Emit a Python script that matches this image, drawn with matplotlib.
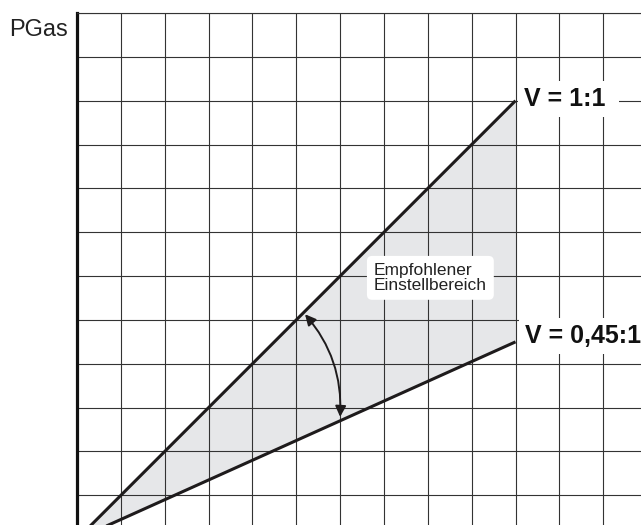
import matplotlib
matplotlib.use("Agg")
import matplotlib.pyplot as plt
import numpy as np
from matplotlib.patches import FancyArrowPatch

# ---- data ----
ratio_labels = ["V = 1:1", "V = 0,45:1"]
ratios = [1.0, 0.45]
x_range = [0.0, 10.0]
grid_x = list(range(1, 13))
grid_y = list(range(1, 13))
y_label = "PGas"
area_label = "Empfohlener\nEinstellbereich"

plt.rcParams['font.family'] = ['Liberation Sans', 'DejaVu Sans']

W, H = 641, 525
fig = plt.figure(figsize=(W / 100, H / 100), dpi=100)
unit = 43.85
left_px, top_px = 77, 13
ax = fig.add_axes([left_px / W, 0, 1 - left_px / W, 1 - top_px / H])
ymax = 12.0
ymin = ymax - (H - top_px) / unit
xmax = (W - left_px) / unit
ax.set_xlim(0, xmax)
ax.set_ylim(ymin, ymax)

grid_col = '#333333'
for gx in grid_x:
    ax.axvline(gx, color=grid_col, lw=0.8, zorder=2)
for gy in grid_y:
    ax.axhline(gy, color=grid_col, lw=0.8, zorder=2)

ax.set_xticks([])
ax.set_yticks([])
for s in ['right', 'bottom']:
    ax.spines[s].set_visible(False)
ax.spines['top'].set_color(grid_col)
ax.spines['top'].set_linewidth(0.8)
ax.spines['left'].set_color('#111111')
ax.spines['left'].set_linewidth(2.3)

xs = np.array(x_range)
y_hi = ratios[0] * xs
y_lo = ratios[1] * xs
ax.fill_between(xs, y_lo, y_hi, color='#e6e7e9', lw=0, zorder=1)
line_col = '#1e1b1c'
ax.plot(xs, y_hi, color=line_col, lw=2.2, zorder=3, solid_capstyle='butt')
ax.plot(xs, y_lo, color=line_col, lw=2.2, zorder=3, solid_capstyle='butt')

# labels for ratios
ax.text(10.19, 9.88, ratio_labels[0] + " ", fontsize=18, fontweight='bold', color='#111111',
        ha='left', va='baseline', zorder=5,
        bbox=dict(boxstyle='square,pad=0.25', fc='white', ec='none'))
ax.text(10.22, 4.47, ratio_labels[1], fontsize=18, fontweight='bold', color='#111111',
        ha='left', va='baseline', zorder=5,
        bbox=dict(boxstyle='square,pad=0.25', fc='white', ec='none'))

# area label
ax.text(6.77, 5.96, area_label, fontsize=12.5, color='#222222', ha='left', va='center',
        linespacing=1.0, zorder=5,
        bbox=dict(boxstyle='round,pad=0.4,rounding_size=0.3', fc='white', ec='none'))

# curved double arrow
arr = FancyArrowPatch((5.2, 5.13), (6.0, 2.79), arrowstyle='<|-|>', mutation_scale=16,
                      connectionstyle='arc3,rad=-0.2', color=line_col, lw=1.4, zorder=4,
                      shrinkA=0, shrinkB=0)
ax.add_patch(arr)

fig.text(68 / W, 1 - 36 / H, y_label, fontsize=17, color='#222222', ha='right', va='baseline')

fig.savefig('out.png', dpi=100)
